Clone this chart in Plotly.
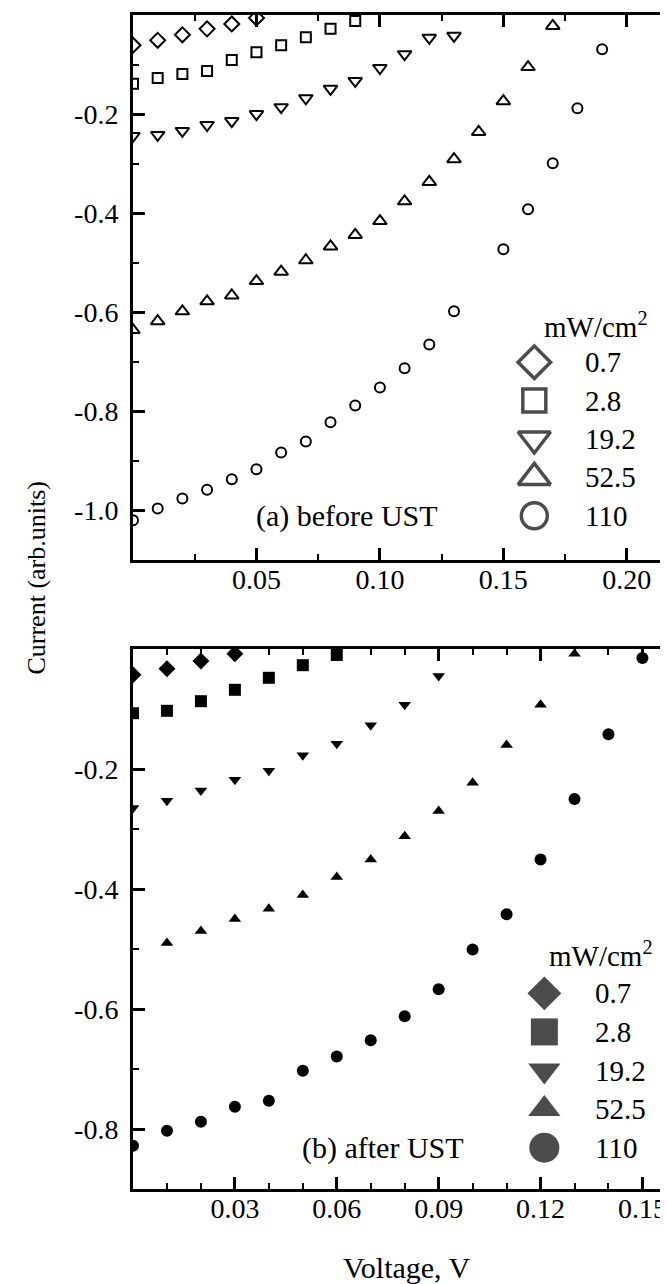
import plotly.graph_objects as go

# ---------------- data: (a) before UST ----------------
a07_x = [0.00, 0.01, 0.02, 0.03, 0.04, 0.05]
a07_y = [-0.061, -0.051, -0.040, -0.028, -0.018, -0.006]

a28_x = [0.00, 0.01, 0.02, 0.03, 0.04, 0.05, 0.06, 0.07, 0.08, 0.09]
a28_y = [-0.139, -0.127, -0.119, -0.113, -0.091, -0.075, -0.061, -0.045, -0.028, -0.012]

a192_x = [0.00, 0.01, 0.02, 0.03, 0.04, 0.05, 0.06, 0.07, 0.08, 0.09, 0.10, 0.11, 0.12, 0.13]
a192_y = [-0.244, -0.242, -0.234, -0.222, -0.214, -0.200, -0.186, -0.168, -0.149, -0.133,
          -0.107, -0.079, -0.046, -0.042]

a525_x = [0.00, 0.01, 0.02, 0.03, 0.04, 0.05, 0.06, 0.07, 0.08, 0.09, 0.10, 0.11, 0.12,
          0.13, 0.14, 0.15, 0.16, 0.17]
a525_y = [-0.636, -0.618, -0.598, -0.578, -0.566, -0.537, -0.518, -0.495, -0.467, -0.444,
          -0.416, -0.376, -0.337, -0.291, -0.236, -0.174, -0.105, -0.022]

a110_x = [0.00, 0.01, 0.02, 0.03, 0.04, 0.05, 0.06, 0.07, 0.08, 0.09, 0.10, 0.11, 0.12,
          0.13, 0.15, 0.16, 0.17, 0.18, 0.19]
a110_y = [-1.020, -0.996, -0.976, -0.958, -0.937, -0.917, -0.883, -0.861, -0.822, -0.788,
          -0.752, -0.713, -0.665, -0.598, -0.473, -0.392, -0.299, -0.188, -0.069]

# ---------------- data: (b) after UST ----------------
b07_x = [0.00, 0.01, 0.02, 0.03]
b07_y = [-0.043, -0.033, -0.020, -0.008]

b28_x = [0.00, 0.01, 0.02, 0.03, 0.04, 0.05, 0.06]
b28_y = [-0.107, -0.103, -0.087, -0.068, -0.048, -0.027, -0.010]

b192_x = [0.00, 0.01, 0.02, 0.03, 0.04, 0.05, 0.06, 0.07, 0.08, 0.09]
b192_y = [-0.265, -0.253, -0.236, -0.218, -0.203, -0.177, -0.158, -0.127, -0.093, -0.045]

b525_x = [0.01, 0.02, 0.03, 0.04, 0.05, 0.06, 0.07, 0.08, 0.09, 0.10, 0.11, 0.12, 0.13]
b525_y = [-0.490, -0.470, -0.450, -0.433, -0.410, -0.380, -0.351, -0.312, -0.270, -0.223,
          -0.160, -0.093, -0.008]

b110_x = [0.00, 0.01, 0.02, 0.03, 0.04, 0.05, 0.06, 0.07, 0.08, 0.09, 0.10, 0.11, 0.12,
          0.13, 0.14, 0.15]
b110_y = [-0.828, -0.803, -0.788, -0.763, -0.753, -0.703, -0.679, -0.652, -0.612, -0.567,
          -0.501, -0.442, -0.351, -0.250, -0.142, -0.015]

series_labels = ["0.7", "2.8", "19.2", "52.5", "110"]
legend_unit = "mW/cm<sup>2</sup>"

# ticks
a_xtick_vals = [0.05, 0.10, 0.15, 0.20]
a_xtick_text = ["0.05", "0.10", "0.15", "0.20"]
a_xminor = [0.0, 0.025, 0.075, 0.125, 0.175]
a_ytick_vals = [-0.2, -0.4, -0.6, -0.8, -1.0]
a_ytick_text = ["-0.2", "-0.4", "-0.6", "-0.8", "-1.0"]
a_yminor = [-0.1, -0.3, -0.5, -0.7, -0.9]

b_xtick_vals = [0.03, 0.06, 0.09, 0.12, 0.15]
b_xtick_text = ["0.03", "0.06", "0.09", "0.12", "0.15"]
b_xminor = [0.01, 0.02, 0.04, 0.05, 0.07, 0.08, 0.10, 0.11, 0.13, 0.14]
b_ytick_vals = [-0.2, -0.4, -0.6, -0.8]
b_ytick_text = ["-0.2", "-0.4", "-0.6", "-0.8"]
b_yminor = [-0.1, -0.3, -0.5, -0.7]

FONT = "Liberation Serif, Times New Roman, serif"

open_symbols = ["diamond-open", "square-open", "triangle-down-open", "triangle-up-open", "circle-open"]
open_sizes = [11.5, 10, 12, 12, 10]
fill_symbols = ["diamond", "square", "triangle-down", "triangle-up", "circle"]
fill_sizes = [13, 12, 11, 11, 12]

fig = go.Figure()

a_sets = [(a07_x, a07_y), (a28_x, a28_y), (a192_x, a192_y), (a525_x, a525_y), (a110_x, a110_y)]
b_sets = [(b07_x, b07_y), (b28_x, b28_y), (b192_x, b192_y), (b525_x, b525_y), (b110_x, b110_y)]

for (xs, ys), sym, sz, lab in zip(a_sets, open_symbols, open_sizes, series_labels):
    fig.add_trace(go.Scatter(x=xs, y=ys, mode="markers", name=lab, showlegend=False,
                             xaxis="x", yaxis="y",
                             marker=dict(symbol=sym, size=sz, color="black",
                                         line=dict(color="black", width=2))))

for (xs, ys), sym, sz, lab in zip(b_sets, fill_symbols, fill_sizes, series_labels):
    fig.add_trace(go.Scatter(x=xs, y=ys, mode="markers", name=lab, showlegend=False,
                             xaxis="x2", yaxis="y2",
                             marker=dict(symbol=sym, size=sz, color="black",
                                         line=dict(color="black", width=0))))

# legend keys drawn on hidden helper axes (one row per label index)
rows = list(range(len(series_labels)))
fig.add_trace(go.Scatter(x=[0.17] * len(rows), y=rows, mode="markers",
                         xaxis="x3", yaxis="y3", showlegend=False, cliponaxis=False,
                         marker=dict(symbol=open_symbols, size=[25, 23, 28, 28, 26],
                                     color="black", line=dict(color="black", width=3.5))))
fig.add_trace(go.Scatter(x=[0.23] * len(rows), y=rows, mode="markers",
                         xaxis="x4", yaxis="y4", showlegend=False, cliponaxis=False,
                         marker=dict(symbol=fill_symbols, size=[26, 27, 28, 28, 30],
                                     color="black", line=dict(width=0))))

annotations = []
for i, lab in zip(rows, series_labels):
    annotations.append(dict(x=0.46, y=i, xref="x3", yref="y3", text=lab, showarrow=False,
                            xanchor="left", yanchor="middle",
                            font=dict(family=FONT, size=29, color="black")))
    annotations.append(dict(x=0.52, y=i, xref="x4", yref="y4", text=lab, showarrow=False,
                            xanchor="left", yanchor="middle",
                            font=dict(family=FONT, size=29, color="black")))

W, H = 668, 1284
ML, MR, MT, MB = 125, 0, 7, 103
PW, PH = W - ML - MR, H - MT - MB


def px(xp):
    return (xp - ML) / PW


def py(yp):
    return (H - MB - yp) / PH


annotations += [
    dict(x=px(591), y=py(317), xref="paper", yref="paper", text=legend_unit, showarrow=False,
         xanchor="center", yanchor="middle", font=dict(family=FONT, size=29, color="black")),
    dict(x=px(596), y=py(946), xref="paper", yref="paper", text=legend_unit, showarrow=False,
         xanchor="center", yanchor="middle", font=dict(family=FONT, size=29, color="black")),
    dict(x=px(340), y=py(508), xref="paper", yref="paper", text="(a) before UST", showarrow=False,
         xanchor="center", yanchor="middle", font=dict(family=FONT, size=30, color="black")),
    dict(x=px(376), y=py(1140), xref="paper", yref="paper", text="(b) after UST", showarrow=False,
         xanchor="center", yanchor="middle", font=dict(family=FONT, size=30, color="black")),
    dict(x=px(401), y=py(1260), xref="paper", yref="paper", text="Voltage, V", showarrow=False,
         xanchor="center", yanchor="middle", font=dict(family=FONT, size=30, color="black")),
    dict(x=px(27), y=py(570), xref="paper", yref="paper", text="Current (arb.units)",
         showarrow=False, textangle=-90, xanchor="center", yanchor="middle",
         font=dict(family=FONT, size=26, color="black")),
]

common = dict(showline=True, linewidth=3, linecolor="black", mirror="ticks", ticks="inside",
              ticklen=12, tickwidth=2.5, tickcolor="black", showgrid=False, zeroline=False)
xfont = dict(family=FONT, size=28, color="black")
yfont = dict(family=FONT, size=28, color="black")
minor_common = dict(ticks="inside", ticklen=6, tickwidth=2, tickcolor="black", showgrid=False)

fig.update_layout(
    width=W, height=H,
    margin=dict(l=ML, r=MR, t=MT, b=MB),
    paper_bgcolor="white", plot_bgcolor="rgba(0,0,0,0)",
    showlegend=False,
    font=dict(family=FONT, color="black"),
    xaxis=dict(domain=[0, 1], anchor="y", range=[0, 0.2187], tickvals=a_xtick_vals,
               ticktext=a_xtick_text, minor=dict(tickvals=a_xminor, **minor_common),
               ticklabelstandoff=-8, tickfont=xfont, **common),
    yaxis=dict(domain=[py(552), 1], anchor="x", range=[-1.1, 0], tickvals=a_ytick_vals,
               ticktext=a_ytick_text, minor=dict(tickvals=a_yminor, **minor_common),
               ticklabelstandoff=6, tickfont=yfont, **common),
    xaxis2=dict(domain=[0, 1], anchor="y2", range=[0, 0.159], tickvals=b_xtick_vals,
                ticktext=b_xtick_text, minor=dict(tickvals=b_xminor, **minor_common),
                ticklabelstandoff=-8, tickfont=xfont, **common),
    yaxis2=dict(domain=[0, py(641)], anchor="x2", range=[-0.9, 0], tickvals=b_ytick_vals,
                ticktext=b_ytick_text, minor=dict(tickvals=b_yminor, **minor_common),
                ticklabelstandoff=6, tickfont=yfont, **common),
    xaxis3=dict(domain=[px(500), 1], anchor="y3", range=[0, 1], visible=False),
    yaxis3=dict(domain=[py(527), py(335)], anchor="x3", range=[4.5, -0.5], visible=False),
    xaxis4=dict(domain=[px(500), 1], anchor="y4", range=[0, 1], visible=False),
    yaxis4=dict(domain=[py(1159), py(966)], anchor="x4", range=[4.5, -0.5], visible=False),
    annotations=annotations,
)

fig.write_html("out.html")
